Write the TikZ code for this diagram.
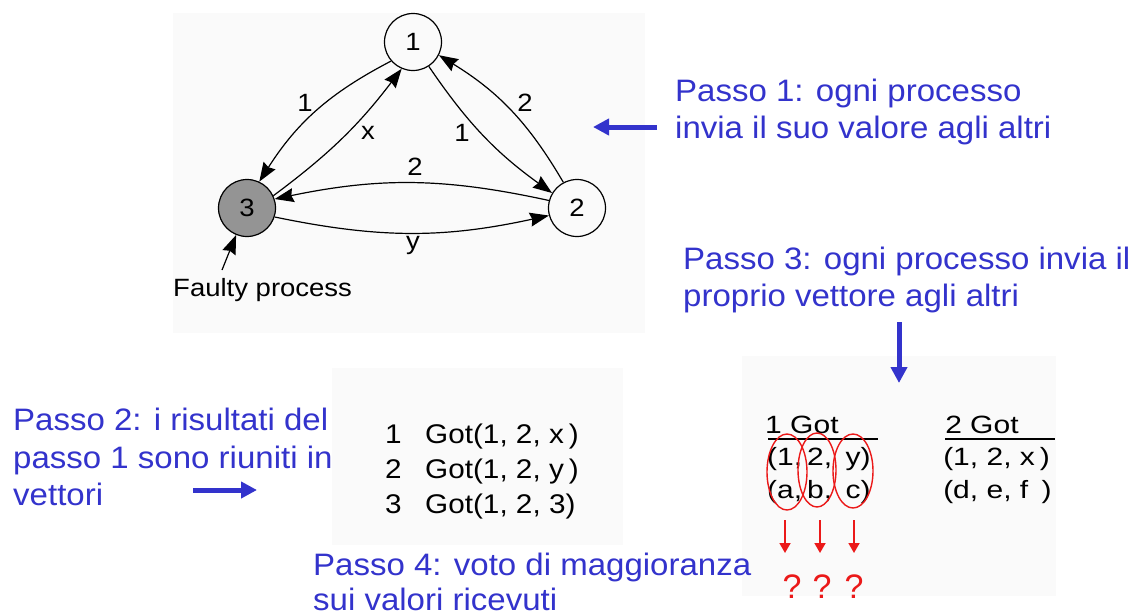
\documentclass[tikz,border=0pt]{standalone}
\usepackage{fontspec}
\setmainfont{Liberation Sans}
\usetikzlibrary{arrows.meta,shapes.geometric}
\definecolor{pblue}{RGB}{51,51,204}
\definecolor{pred}{RGB}{235,25,25}
\definecolor{panel}{RGB}{250,250,250}
\begin{document}
\begin{tikzpicture}[x=1pt,y=1pt,
  proc/.style={circle,draw,line width=1.2pt,minimum size=57pt,inner sep=0pt,font=\fontsize{25}{28}\selectfont},
  edge/.style={line width=1.2pt,-{Stealth[length=19pt,width=14pt,inset=2pt]}},
  lbl/.style={font=\fontsize{25}{28}\selectfont,inner sep=0pt,xscale=1.1},
  btxt/.style={text=pblue,font=\fontsize{31}{36}\selectfont,anchor=base west,inner sep=0pt,xscale=1.065},
  barrow/.style={draw=pblue,line width=5pt,-{Triangle[length=16pt,width=16pt]}},
  rarrow/.style={draw=pred,line width=1.8pt,-{Triangle[length=10pt,width=11pt]}},
  gtxt/.style={font=\fontsize{25}{30}\selectfont,anchor=base west,inner sep=0pt,xscale=1.1},
  mtxt/.style={font=\fontsize{27}{30}\selectfont,anchor=base west,inner sep=0pt,xscale=1.1},
  ttxt/.style={font=\fontsize{25}{30}\selectfont,anchor=base west,inner sep=0pt,xscale=1.2},
  qm/.style={text=pred,font=\fontsize{34}{40}\selectfont,anchor=base,inner sep=0pt},
  pnl/.style={fill=panel,draw=none}
]
\useasboundingbox (0,0) rectangle (1138,-614);
\fill[white] (0,0) rectangle (1138,-614);
% panels
\path[pnl] (173,-13) rectangle (645,-333);
\path[pnl] (332,-368) rectangle (623,-545);
\path[pnl] (742,-356) rectangle (1056,-596);

% graph
\node[proc] (n1) at (413,-42) {\scalebox{1.1}[1]{1}};
\node[proc,fill=black!42] (n3) at (247,-208) {\scalebox{1.1}[1]{3}};
\node[proc] (n2) at (577,-208) {\scalebox{1.1}[1]{2}};

\draw[edge] (n1.221) to[bend right=15] (n3.65);
\draw[edge] (n3.25) to[bend right=8] (n1.247);
\draw[edge] (n1.303) to[bend right=10] (n2.149);
\draw[edge] (n2.118) to[bend right=14] (n1.333);
\draw[edge] (n2.165) to[bend right=12] (n3.18);
\draw[edge] (n3.342) to[bend right=12] (n2.195);

\node[lbl] (l13) at (305,-103) {1};
\node[lbl] (l31) at (368,-133) {x};
\node[lbl] (l12) at (462,-133) {1};
\node[lbl] (l21) at (525,-103) {2};
\node[lbl] (l23) at (415,-167) {2};
\node[lbl] (l32) at (413,-245) {y};

\coordinate (ft) at (222,-270);
\draw[edge] (ft) -- (n3.248);
\node[gtxt] (faulty) at (173,-296) {Faulty process};

% blue texts
\node[btxt] (p1a) at (675,-101) {Passo 1: ogni processo};
\node[btxt] (p1b) at (675,-138) {invia il suo valore agli altri};
\node[btxt] (p3a) at (683,-269) {Passo 3: ogni processo invia il};
\node[btxt] (p3b) at (683,-306) {proprio vettore agli altri};
\node[btxt] (p2a) at (13,-430) {Passo 2: i risultati del};
\node[btxt] (p2b) at (13,-468) {passo 1 sono riuniti in};
\node[btxt] (p2c) at (13,-505) {vettori};
\node[btxt] (p4a) at (313,-575) {Passo 4: voto di maggioranza};
\node[btxt] (p4b) at (313,-610) {sui valori ricevuti};

% blue arrows
\coordinate (a1s) at (657,-127); \coordinate (a1e) at (593,-127);
\draw[barrow] (a1s) -- (a1e);
\coordinate (a3s) at (899,-322); \coordinate (a3e) at (899,-383);
\draw[barrow] (a3s) -- (a3e);
\coordinate (a2s) at (193,-490); \coordinate (a2e) at (257,-490);
\draw[barrow] (a2s) -- (a2e);

% middle list
\node[mtxt] (m1n) at (385,-443) {1};
\node[mtxt] (m1t) at (425,-443) {Got(1, 2, x\,)};
\node[mtxt] (m2n) at (385,-478) {2};
\node[mtxt] (m2t) at (425,-478) {Got(1, 2, y\,)};
\node[mtxt] (m3n) at (385,-513) {3};
\node[mtxt] (m3t) at (425,-513) {Got(1, 2, 3)};

% tables
\node[ttxt] (t1h) at (765,-433) {1 Got};
\draw[line width=1.5pt] (768,-439) -- (878,-439);
\node[ttxt] (t1a) at (767,-465) {(1,\,2,\ \,y)};
\node[ttxt] (t1b) at (767,-498) {(a,\,b,\ \,c)};
\node[ttxt] (t2h) at (945,-433) {2 Got};
\draw[line width=1.5pt] (945,-439) -- (1055,-439);
\node[ttxt] (t2a) at (943,-465) {(1, 2,\ x\,)};
\node[ttxt] (t2b) at (943,-498) {(d, e, f\ \,)};

% red ellipses
\draw[pred,line width=1.4pt] (787,-472) ellipse [x radius=20, y radius=38];
\draw[pred,line width=1.4pt] (817,-470) ellipse [x radius=19, y radius=37];
\draw[pred,line width=1.4pt] (853,-471) ellipse [x radius=20, y radius=37];

% red arrows
\coordinate (r1s) at (785,-520); \coordinate (r1e) at (785,-553);
\coordinate (r2s) at (820,-520); \coordinate (r2e) at (820,-553);
\coordinate (r3s) at (854,-520); \coordinate (r3e) at (854,-553);
\draw[rarrow] (r1s) -- (r1e);
\draw[rarrow] (r2s) -- (r2e);
\draw[rarrow] (r3s) -- (r3e);

\node[qm] (q1) at (792,-598) {?};
\node[qm] (q2) at (822,-598) {?};
\node[qm] (q3) at (854,-598) {?};
\end{tikzpicture}
\end{document}
